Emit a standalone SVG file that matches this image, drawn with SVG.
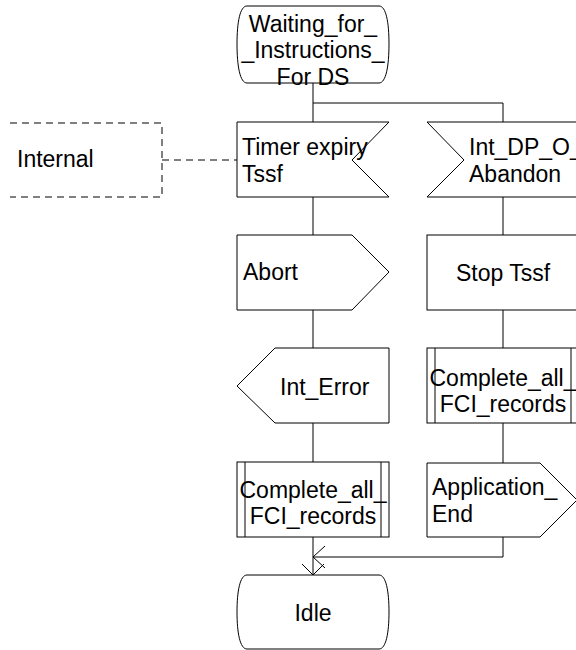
<svg xmlns="http://www.w3.org/2000/svg" width="576" height="650" viewBox="0 0 576 650">
<style>
.s{fill:#fff;stroke:#000;stroke-width:1}
.l{fill:none;stroke:#000;stroke-width:1}
.d{fill:none;stroke:#000;stroke-width:1;stroke-dasharray:7,5}
text{font-family:"Liberation Sans",Arial,sans-serif;font-size:23px;fill:#000}
.c{text-anchor:middle}
</style>
<rect width="576" height="650" fill="#fff"/>
<g id="connectors">
<path class="l" d="M313,83 V122 M313,103 H503 V122"/>
<path class="l" d="M313,197 V235 M313,310 V348 M313,423 V462 M313,537 V575"/>
<path class="l" d="M503,197 V235 M503,310 V348 M503,423 V463 M503,537 V557 H313"/>
<path class="l" d="M325,546 L313,557 L325,568"/>
<path class="l" d="M302,564 L313,575 L324,564"/>
<path class="d" d="M162,160 H237"/>
</g>
<g id="start">
<path class="s" d="M247,6 H379 C386,6 389,22 389,44 C389,66 386,83 379,83 H247 C240,83 237,66 237,44 C237,22 240,6 247,6 Z"/>
<text class="c" x="313" y="32">Waiting_for_</text>
<text class="c" x="313" y="58">_Instructions_</text>
<text class="c" x="313" y="85">For DS</text>
</g>
<g id="internal">
<path class="d" d="M10,123 H162 V197 H10"/>
<text x="17" y="167">Internal</text>
</g>
<g id="timer">
<path class="s" d="M237,122 H389 L352,160 L389,197 H237 Z"/>
<text x="242" y="155">Timer expiry</text>
<text x="242" y="182">Tssf</text>
</g>
<g id="abandon">
<path class="s" d="M427,122 H580 V197 H427 L464,160 Z"/>
<text x="469" y="155">Int_DP_O_</text>
<text x="469" y="182">Abandon</text>
</g>
<g id="abort">
<path class="s" d="M237,235 H352 L389,272 L352,310 H237 Z"/>
<text x="243" y="280">Abort</text>
</g>
<g id="stop">
<rect class="s" x="427" y="235" width="153" height="75"/>
<text class="c" x="503" y="281">Stop Tssf</text>
</g>
<g id="interror">
<path class="s" d="M275,348 H389 V423 H275 L237,386 Z"/>
<text x="280" y="395">Int_Error</text>
</g>
<g id="complete2">
<rect class="s" x="427" y="348" width="153" height="75"/>
<path class="l" d="M435,348 V423 M571,348 V423"/>
<text class="c" x="503" y="386">Complete_all_</text>
<text class="c" x="503" y="412">FCI_records</text>
</g>
<g id="complete1">
<rect class="s" x="237" y="462" width="152" height="75"/>
<path class="l" d="M245,462 V537 M381,462 V537"/>
<text class="c" x="313" y="498">Complete_all_</text>
<text class="c" x="313" y="524">FCI_records</text>
</g>
<g id="append">
<path class="s" d="M427,463 H540 L577,500 L540,537 H427 Z"/>
<text x="432" y="495">Application_</text>
<text x="432" y="522">End</text>
</g>
<g id="idle">
<path class="s" d="M247,575 H379 C386,575 389,591 389,612 C389,633 386,649 379,649 H247 C240,649 237,633 237,612 C237,591 240,575 247,575 Z"/>
<text class="c" x="313" y="621">Idle</text>
</g>
</svg>
